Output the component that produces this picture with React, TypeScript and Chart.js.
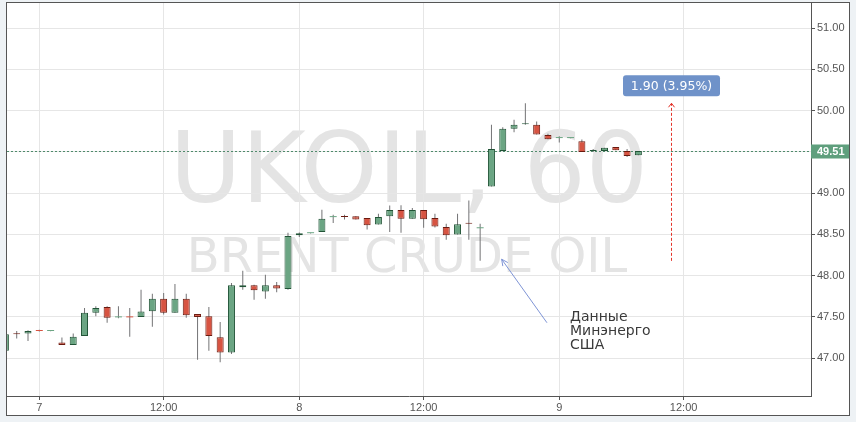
import React, { useEffect, useRef } from 'react';
import { Chart, registerables } from 'chart.js';

Chart.register(...registerables);

// Hourly UKOIL candles (index 0 = day 6, 21:00; index 3 = day 7, 01:00)
const opens = [47.09, 47.30, 47.30, 47.335, 47.33, 47.19, 47.16, 47.27, 47.55, 47.62,
  47.495, 47.50, 47.50, 47.57, 47.72, 47.55, 47.72, 47.535, 47.51, 47.255,
  47.07, 47.86, 47.885, 47.81, 47.885, 47.84, 48.49, 48.515, 48.53, 48.71,
  48.725, 48.72, 48.70, 48.62, 48.72, 48.795, 48.69, 48.795, 48.70, 48.59,
  48.50, 48.64, 48.575, 49.08, 49.51, 49.78, 49.835, 49.83, 49.705, 49.668,
  49.668, 49.63, 49.51, 49.51, 49.56, 49.51, 49.46];
const highs = [47.30, 47.33, 47.34, 47.345, 47.335, 47.25, 47.30, 47.61, 47.63, 47.63,
  47.63, 47.61, 47.83, 47.78, 47.79, 47.90, 47.78, 47.535, 47.62, 47.44,
  47.91, 48.06, 47.89, 48.01, 47.925, 48.52, 48.525, 48.52, 48.80, 48.74,
  48.74, 48.72, 48.70, 48.75, 48.85, 48.855, 48.82, 48.795, 48.75, 48.63,
  48.75, 48.91, 48.63, 49.83, 49.80, 49.89, 50.09, 49.87, 49.72, 49.69,
  49.672, 49.65, 49.535, 49.55, 49.56, 49.535, 49.51];
const lows = [47.08, 47.24, 47.21, 47.325, 47.328, 47.16, 47.16, 47.27, 47.51, 47.43,
  47.485, 47.26, 47.50, 47.38, 47.53, 47.55, 47.49, 46.98, 47.09, 46.95,
  47.05, 47.83, 47.71, 47.72, 47.80, 47.83, 48.47, 48.51, 48.53, 48.64,
  48.68, 48.68, 48.56, 48.62, 48.53, 48.52, 48.69, 48.58, 48.585, 48.435,
  48.50, 48.435, 48.18, 49.08, 49.51, 49.74, 49.83, 49.71, 49.655, 49.615,
  49.665, 49.50, 49.50, 49.51, 49.52, 49.44, 49.46];
const closes = [47.29, 47.29, 47.33, 47.33, 47.333, 47.16, 47.26, 47.55, 47.61, 47.49,
  47.50, 47.495, 47.565, 47.72, 47.55, 47.72, 47.52, 47.50, 47.27, 47.07,
  47.885, 47.885, 47.825, 47.885, 47.845, 48.48, 48.515, 48.517, 48.69, 48.712,
  48.71, 48.68, 48.61, 48.71, 48.795, 48.69, 48.795, 48.685, 48.595, 48.49,
  48.625, 48.63, 48.578, 49.535, 49.78, 49.83, 49.845, 49.71, 49.655, 49.67,
  49.67, 49.50, 49.52, 49.55, 49.52, 49.45, 49.51];

const xTickIndex = [3, 14, 26, 37, 49, 60];
const xTickLabels = ['7', '12:00', '8', '12:00', '9', '12:00'];

const lastPrice = 49.51;
const measureX = 58.9;
const measureFrom = 48.18;
const measureTo = 50.09;
const measureLabel = '1.90 (3.95%)';

const noteLines = ['Данные', 'Минэнерго', 'США'];
const noteArrowTip = { x: 43.9, y: 48.2 };
const noteArrowTail = { x: 47.91, y: 47.43 };
const noteTextPos = { x: 49.95, y: 47.445 };

const symbolTitle = 'UKOIL, 60';
const symbolName = 'BRENT CRUDE OIL';

const UP_FILL = '#6ba583';
const UP_BORDER = '#225437';
const DOWN_FILL = '#d75442';
const DOWN_BORDER = '#6b1a0f';
const WICK = '#737375';

const isUp = (i: number) => closes[i] >= opens[i];
const isFlat = (i: number) => Math.abs(closes[i] - opens[i]) < 0.006;

const overlay = {
  id: 'overlay',
  beforeDraw(chart: any) {
    const { ctx, chartArea: ca, width, height } = chart;
    ctx.save();
    ctx.fillStyle = '#eef2f5';
    ctx.fillRect(0, 0, width, height);
    ctx.fillStyle = '#ffffff';
    ctx.fillRect(7, 3, 842, 412);
    const cx = (ca.left + ca.right) / 2;
    const cy = (ca.top + ca.bottom) / 2;
    ctx.fillStyle = '#e4e4e4';
    ctx.textAlign = 'center';
    ctx.textBaseline = 'alphabetic';
    ctx.font = '98px "DejaVu Sans"';
    ctx.fillText(symbolTitle, cx, cy + 2);
    ctx.font = '48px "DejaVu Sans"';
    ctx.fillText(symbolName, cx - 2, cy + 72);
    ctx.restore();
  },
  beforeDatasetsDraw(chart: any) {
    const { ctx, chartArea: ca, scales } = chart;
    const y = Math.round(scales.y.getPixelForValue(lastPrice)) + 0.5;
    ctx.save();
    ctx.strokeStyle = '#4f8a6b';
    ctx.lineWidth = 1;
    ctx.setLineDash([2, 2]);
    ctx.beginPath();
    ctx.moveTo(ca.left, y);
    ctx.lineTo(ca.right, y);
    ctx.stroke();
    ctx.restore();
  },
  afterDatasetsDraw(chart: any) {
    const { ctx, scales } = chart;
    const xs = scales.x;
    const ys = scales.y;
    ctx.save();
    // measure arrow
    const mx = Math.round(xs.getPixelForValue(measureX)) + 0.5;
    const y1 = ys.getPixelForValue(measureTo);
    const y2 = ys.getPixelForValue(measureFrom);
    ctx.strokeStyle = '#e3342a';
    ctx.lineWidth = 1;
    ctx.setLineDash([3, 2]);
    ctx.beginPath();
    ctx.moveTo(mx, y2);
    ctx.lineTo(mx, y1);
    ctx.stroke();
    ctx.setLineDash([]);
    ctx.beginPath();
    ctx.moveTo(mx - 3, y1 + 4);
    ctx.lineTo(mx, y1);
    ctx.lineTo(mx + 3, y1 + 4);
    ctx.stroke();
    // label
    const lw = 97, lh = 21;
    const lx = mx - lw / 2;
    const ly = y1 - 28;
    ctx.fillStyle = '#6f92c9';
    ctx.beginPath();
    (ctx as any).roundRect(lx, ly, lw, lh, 3);
    ctx.fill();
    ctx.fillStyle = '#ffffff';
    ctx.font = '12.5px "DejaVu Sans"';
    ctx.textAlign = 'center';
    ctx.textBaseline = 'middle';
    ctx.fillText(measureLabel, mx, ly + lh / 2 + 0.5);

    // note arrow
    const tx = xs.getPixelForValue(noteArrowTip.x);
    const ty = ys.getPixelForValue(noteArrowTip.y);
    const sx = xs.getPixelForValue(noteArrowTail.x);
    const sy = ys.getPixelForValue(noteArrowTail.y);
    ctx.strokeStyle = '#7f95d6';
    ctx.lineWidth = 1;
    ctx.beginPath();
    ctx.moveTo(sx, sy);
    ctx.lineTo(tx, ty);
    const ang = Math.atan2(sy - ty, sx - tx);
    const hl = 7;
    ctx.moveTo(tx + hl * Math.cos(ang + 0.45), ty + hl * Math.sin(ang + 0.45));
    ctx.lineTo(tx, ty);
    ctx.lineTo(tx + hl * Math.cos(ang - 0.45), ty + hl * Math.sin(ang - 0.45));
    ctx.stroke();

    // note text
    const nx = xs.getPixelForValue(noteTextPos.x);
    const ny = ys.getPixelForValue(noteTextPos.y);
    ctx.fillStyle = '#3a3a3a';
    ctx.font = '14px "DejaVu Sans"';
    ctx.textAlign = 'left';
    ctx.textBaseline = 'alphabetic';
    noteLines.forEach((t, k) => ctx.fillText(t, nx, ny + k * 14));
    ctx.restore();
  },
  afterDraw(chart: any) {
    const { ctx, chartArea: ca, scales } = chart;
    ctx.save();
    // price label on axis
    const py = scales.y.getPixelForValue(lastPrice);
    ctx.fillStyle = '#5f9f7d';
    ctx.fillRect(ca.right, Math.round(py) - 6.5, 38, 14);
    ctx.fillStyle = '#ffffff';
    ctx.font = 'bold 11px "Liberation Sans"';
    ctx.textAlign = 'left';
    ctx.textBaseline = 'middle';
    ctx.fillText(lastPrice.toFixed(2), ca.right + 6, Math.round(py) + 0.5);
    // frame
    ctx.strokeStyle = '#555555';
    ctx.lineWidth = 1;
    ctx.strokeRect(6.5, 2.5, 843, 413);
    ctx.restore();
  },
};

const zeroPad = (scale: any) => {
  scale.paddingTop = 0;
  scale.paddingBottom = 0;
  scale.paddingLeft = 0;
  scale.paddingRight = 0;
};

export default function App() {
  const ref = useRef<HTMLCanvasElement | null>(null);
  useEffect(() => {
    if (!ref.current) return;
    const wickData = lows.map((l, i) => ({ x: i, y: [l, highs[i]] }));
    const bodyData = opens.map((o, i) => ({ x: i, y: [o, closes[i]] }));
    const chart = new Chart(ref.current, {
      type: 'bar',
      data: {
        datasets: [
          {
            label: 'wick',
            data: wickData as any,
            backgroundColor: WICK,
            barThickness: 1,
            grouped: false,
            inflateAmount: 0,
            borderWidth: 0,
            order: 2,
          } as any,
          {
            label: 'body',
            data: bodyData as any,
            backgroundColor: (c: any) => (isUp(c.dataIndex) ? UP_FILL : DOWN_FILL),
            borderColor: (c: any) => (isUp(c.dataIndex) ? UP_BORDER : DOWN_BORDER),
            borderWidth: (c: any) => (isFlat(c.dataIndex) ? 0 : 1),
            borderSkipped: false,
            minBarLength: 1,
            barThickness: 7,
            grouped: false,
            inflateAmount: 0,
            order: 1,
          } as any,
        ],
      },
      options: {
        responsive: false,
        animation: false,
        devicePixelRatio: 1,
        layout: { padding: { left: 7, top: 3, right: 7, bottom: 7 } },
        plugins: { legend: { display: false }, tooltip: { enabled: false } },
        scales: {
          x: {
            type: 'linear',
            min: 0.1415,
            max: 71.27,
            offset: false,
            afterBuildTicks: (scale: any) => {
              scale.ticks = xTickIndex.map((v) => ({ value: v }));
            },
            afterFit: (scale: any) => {
              scale.height = 19;
              zeroPad(scale);
            },
            ticks: {
              autoSkip: false,
              maxRotation: 0,
              padding: 1,
              color: '#555555',
              font: { family: 'Liberation Sans', size: 11 },
              callback: (_v: any, i: number) => xTickLabels[i],
            },
            grid: { offset: false, color: '#e6e6e6', tickColor: '#555555', tickLength: 4 },
            border: { color: '#555555', width: 1 },
          },
          y: {
            type: 'linear',
            position: 'right',
            min: 46.542,
            max: 51.305,
            afterFit: (scale: any) => {
              scale.width = 38;
              zeroPad(scale);
            },
            ticks: {
              stepSize: 0.5,
              includeBounds: false,
              padding: 2,
              color: '#555555',
              font: { family: 'Liberation Sans', size: 11 },
              callback: (v: any) => Number(v).toFixed(2),
            },
            grid: { color: '#e6e6e6', tickColor: '#555555', tickLength: 4 },
            border: { color: '#555555', width: 1 },
          },
        },
      } as any,
      plugins: [overlay as any],
    });
    return () => chart.destroy();
  }, []);
  return (
    <div style={{ position: 'fixed', left: 0, top: 0, width: 856, height: 422, background: '#eef2f5' }}>
      <canvas ref={ref} width={856} height={422} style={{ display: 'block', width: 856, height: 422 }} />
    </div>
  );
}
